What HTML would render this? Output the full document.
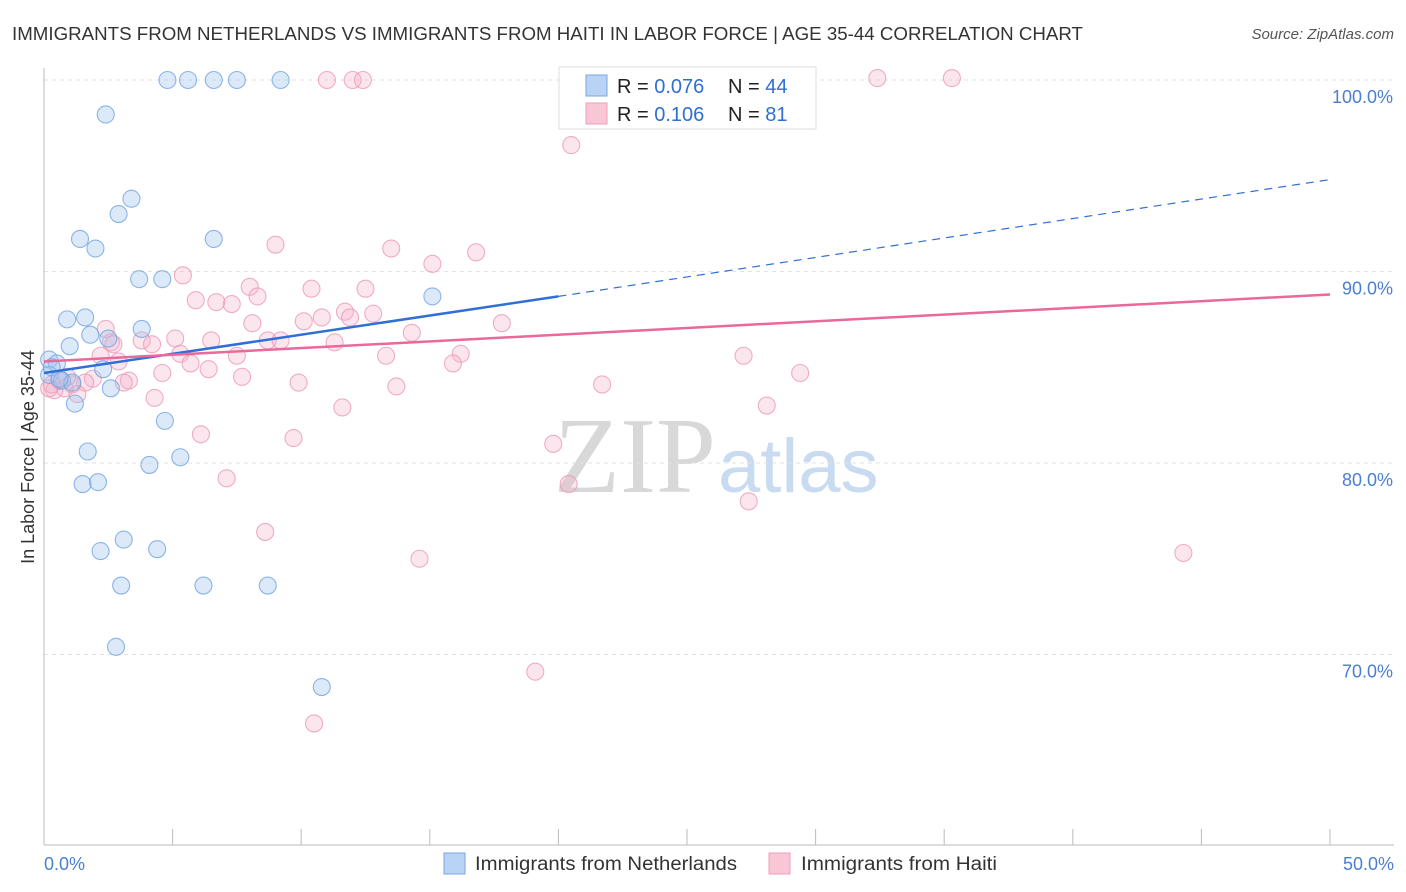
<!DOCTYPE html>
<html><head><meta charset="utf-8">
<style>
body{margin:0;background:#fff;font-family:"Liberation Sans",sans-serif;}
svg{display:block}
</style></head>
<body>
<svg id="chart" width="1406" height="892" xmlns="http://www.w3.org/2000/svg">
<text x="12" y="40" font-size="18" fill="#333" textLength="1071" lengthAdjust="spacingAndGlyphs">IMMIGRANTS FROM NETHERLANDS VS IMMIGRANTS FROM HAITI IN LABOR FORCE | AGE 35-44 CORRELATION CHART</text>
<text x="1394" y="39" font-size="15" fill="#555" font-style="italic" text-anchor="end">Source: ZipAtlas.com</text>
<text x="716" y="492" font-size="108" fill="#d8d8d8" font-family="Liberation Serif,serif" text-anchor="end">ZIP</text>
<text x="718" y="492" font-size="76" fill="#c9dbf1">atlas</text>
<g id="grid"></g>
<g id="axes"></g>
<g id="marks"></g>
<text transform="translate(34,457) rotate(-90)" font-size="18" fill="#333" text-anchor="middle">In Labor Force | Age 35-44</text>
<text x="44" y="870" font-size="18" fill="#4a7fd0">0.0%</text>
<text x="1394" y="870" font-size="18" fill="#4a7fd0" text-anchor="end">50.0%</text>
<g>
<rect x="559" y="67" width="257" height="62" fill="#fff" stroke="#ddd"/>
<rect x="586" y="75" width="21" height="21" fill="#b9d3f5" stroke="#7aa7e2"/>
<rect x="586" y="103" width="21" height="21" fill="#f9c6d5" stroke="#ee9fb9"/>
<text x="617" y="93" font-size="20" fill="#222">R = <tspan fill="#2f6fcf">0.076</tspan></text>
<text x="728" y="93" font-size="20" fill="#222">N = <tspan fill="#2f6fcf">44</tspan></text>
<text x="617" y="121" font-size="20" fill="#222">R =  <tspan fill="#2f6fcf">0.106</tspan></text>
<text x="728" y="121" font-size="20" fill="#222">N =  <tspan fill="#2f6fcf">81</tspan></text>
</g>
<g>
<rect x="444" y="853" width="21" height="21" fill="#b9d3f5" stroke="#7aa7e2"/>
<text x="475" y="870" font-size="19" fill="#333" textLength="262" lengthAdjust="spacingAndGlyphs">Immigrants from Netherlands</text>
<rect x="769" y="853" width="21" height="21" fill="#f9c6d5" stroke="#ee9fb9"/>
<text x="801" y="870" font-size="19" fill="#333" textLength="196" lengthAdjust="spacingAndGlyphs">Immigrants from Haiti</text>
</g>
</svg>
<script>
const yTicks=[100,90,80,70];
const yTickLabels=["100.0%","90.0%","80.0%","70.0%"];
const xTicks=[0,5,10,15,20,25,30,35,40,45,50];
const blueX=[4.8,5.6,6.6,7.5,9.2,2.4,3.4,2.9,1.4,2.0,6.6,3.7,4.6,15.1,0.9,1.6,1.8,3.8,2.5,1.0,0.2,0.5,0.2,0.7,1.1,2.3,2.6,1.2,4.7,1.7,5.3,4.1,1.5,2.1,3.1,2.2,4.4,3.0,6.2,8.7,2.8,10.8,0.3,0.6];
const blueY=[100,100,100,100,100,98.2,93.8,93.0,91.7,91.2,91.7,89.6,89.6,88.7,87.5,87.6,86.7,87.0,86.5,86.1,85.4,85.2,84.6,84.3,84.2,84.9,83.9,83.1,82.2,80.6,80.3,79.9,78.9,79.0,76.0,75.4,75.5,73.6,73.6,73.6,70.4,68.3,85.0,84.4];
const pinkX=[11.0,12.0,12.4,26.2,32.4,35.3,20.5,9.0,13.5,16.8,15.1,5.4,8.0,5.9,7.3,6.7,8.3,10.4,12.5,8.1,10.1,10.8,11.7,11.9,12.8,14.3,17.8,2.4,3.8,4.2,5.1,6.5,8.7,9.2,11.3,2.6,5.3,7.5,13.3,16.2,15.9,27.2,2.2,2.9,5.7,4.6,6.4,7.7,29.4,9.9,13.7,21.7,1.9,3.3,1.6,1.1,0.8,1.3,0.4,4.3,11.6,28.1,6.1,9.7,19.8,7.1,20.4,27.4,8.6,14.6,44.3,19.1,10.5,2.7,0.3,0.6,3.1,0.9,0.2];
const pinkY=[100,100,100,100,100.1,100.1,96.6,91.4,91.2,91.0,90.4,89.8,89.2,88.5,88.3,88.4,88.7,89.1,89.1,87.3,87.4,87.6,87.9,87.6,87.8,86.8,87.3,87.0,86.4,86.2,86.5,86.4,86.4,86.4,86.3,86.3,85.7,85.6,85.6,85.7,85.2,85.6,85.6,85.3,85.2,84.7,84.9,84.5,84.7,84.2,84.0,84.1,84.4,84.3,84.2,84.1,83.9,83.6,83.8,83.4,82.9,83.0,81.5,81.3,81.0,79.2,78.9,78.0,76.4,75.0,75.3,69.1,66.4,86.2,84.1,84.3,84.2,84.5,83.9];
const blueTrend=[[0,84.7],[20,88.7],[50,94.8]];
const pinkTrend=[[0,85.3],[50,88.8]];
const NS="http://www.w3.org/2000/svg";
const sx=v=>44+v*25.72;
const sy=v=>80+(100-v)*19.15;
function mk(tag,attrs,parent){const e=document.createElementNS(NS,tag);for(const k in attrs)e.setAttribute(k,attrs[k]);parent.appendChild(e);return e;}
const grid=document.getElementById('grid'),axes=document.getElementById('axes'),marks=document.getElementById('marks');
yTicks.forEach((t,i)=>{
  const l=mk('line',{x1:44,x2:1394,y1:sy(t),y2:sy(t),stroke:'#e2e2e2','stroke-dasharray':'4,4'},grid);
  
  
  const tx=mk('text',{x:1393,y:sy(t)+23,'font-size':18,fill:'#4a7fd0','text-anchor':'end'},axes);
  tx.textContent=yTickLabels[i];
  
  
});
const ya=mk('line',{x1:44,x2:44,y1:68,y2:845,stroke:'#bbb'},axes);


const xa=mk('line',{x1:44,x2:1394,y1:845,y2:845,stroke:'#bbb'},axes);


xTicks.forEach(t=>{
  const l=mk('line',{x1:sx(t),x2:sx(t),y1:829,y2:845,stroke:'#bbb'},axes);
  
  
});
function pts(X,Y,fill,stroke,name){
  X.forEach((x,i)=>{
    const c=mk('circle',{cx:sx(x),cy:sy(Y[i]),r:8.5,fill:fill,stroke:stroke,'stroke-width':1.1,'stroke-opacity':0.8},marks);
    
    
  });
}
pts(pinkX,pinkY,'rgba(246,172,198,0.3)','#eb9ab8','haiti-point');
pts(blueX,blueY,'rgba(160,196,240,0.38)','#72a4e2','netherlands-point');
const b1=mk('line',{x1:sx(blueTrend[0][0]),y1:sy(blueTrend[0][1]),x2:sx(blueTrend[1][0]),y2:sy(blueTrend[1][1]),stroke:'#2f6fd6','stroke-width':2.5},marks);


const b2=mk('line',{x1:sx(blueTrend[1][0]),y1:sy(blueTrend[1][1]),x2:sx(blueTrend[2][0]),y2:sy(blueTrend[2][1]),stroke:'#2f6fd6','stroke-width':1.2,'stroke-dasharray':'8,6'},marks);


const p1=mk('line',{x1:sx(pinkTrend[0][0]),y1:sy(pinkTrend[0][1]),x2:sx(pinkTrend[1][0]),y2:sy(pinkTrend[1][1]),stroke:'#e8699a','stroke-width':2.5},marks);


</script>
</body></html>
